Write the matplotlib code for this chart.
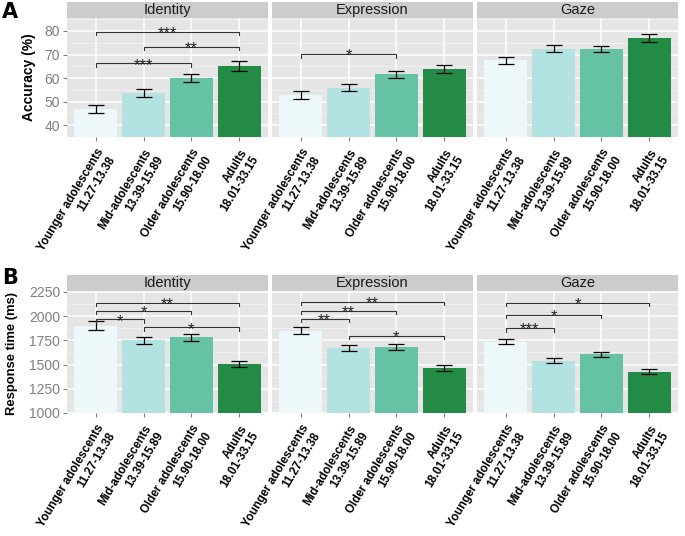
import matplotlib
matplotlib.use('Agg')
import matplotlib.pyplot as plt
from matplotlib.patches import Rectangle

plt.rcParams['font.family'] = ['Liberation Sans', 'DejaVu Sans']

groups = ['Younger adolescents\n11.27-13.38', 'Mid-adolescents\n13.39-15.89',
          'Older adolescents\n15.90-18.00', 'Adults\n18.01-33.15']
tasks = ['Identity', 'Expression', 'Gaze']
colors = ['#EDF8FB', '#B2E2E2', '#66C2A4', '#238B45']

# accuracy (%) per task, one value per age group
acc_mean = [[46.8, 53.5, 60.1, 65.1],
            [52.9, 56.0, 61.7, 63.9],
            [67.6, 72.5, 72.3, 77.0]]
acc_se = [[1.6, 1.7, 1.8, 2.1],
          [1.6, 1.6, 1.5, 1.8],
          [1.5, 1.35, 1.25, 1.5]]

# response time (ms)
rt_mean = [[1900, 1752, 1781, 1504],
           [1848, 1672, 1682, 1462],
           [1738, 1541, 1606, 1428]]
rt_se = [[46, 36, 35, 28],
         [36, 31, 30, 29],
         [29, 27, 27, 27]]

# significance brackets: (from group, to group, height, label)
acc_sig = [[(0, 3, 79.7, '***'), (1, 3, 73.3, '**'), (0, 2, 66.2, '***')],
           [(0, 2, 70.1, '*')],
           []]
rt_sig = [[(0, 3, 2141, '**'), (0, 2, 2055, '*'), (0, 1, 1966, '*'), (1, 3, 1884, '*')],
          [(0, 3, 2147, '**'), (0, 2, 2055, '**'), (0, 1, 1973, '**'), (1, 3, 1798, '*')],
          [(0, 3, 2141, '*'), (0, 2, 2013, '*'), (0, 1, 1874, '***')]]

W, H = 685, 536
fig = plt.figure(figsize=(W / 100, H / 100), dpi=100)

lefts = [67, 272, 477]
pw = 201


def panel(x0, ytop, ybot, title, means, ses, sigs, ylim, major, minor, tick_drop, show_y):
    ax = fig.add_axes([x0 / W, 1 - ybot / H, pw / W, (ybot - ytop) / H])
    ax.set_facecolor('#E5E5E5')
    for s in ax.spines.values():
        s.set_visible(False)
    ax.set_xlim(-0.6, 3.6)
    ax.set_ylim(*ylim)
    for m in minor:
        ax.axhline(m, color='#F2F2F2', lw=0.6, zorder=0)
    for m in major:
        ax.axhline(m, color='white', lw=1.1, zorder=0)
    for i in range(4):
        ax.axvline(i, color='white', lw=1.1, zorder=0)
    ax.bar(range(4), means, width=0.9, color=colors, zorder=1)
    ax.errorbar(range(4), means, yerr=ses, fmt='none', ecolor='black',
                elinewidth=0.9, capsize=5.5, capthick=0.9, zorder=2)
    for a, b, y, lab in sigs:
        ax.plot([a, a, b, b], [y - tick_drop, y, y, y - tick_drop],
                color='#333333', lw=0.8, zorder=3)
        ax.annotate(lab, ((a + b) / 2, y), xytext=(0, -4.5),
                    textcoords='offset points', ha='center', va='baseline',
                    fontsize=12, color='#222222', zorder=3)
    ax.set_yticks(major)
    ax.set_xticks(range(4))
    ax.set_xticklabels(groups, rotation=59, ha='right', va='top',
                       rotation_mode='anchor', fontsize=8.4, fontweight='bold',
                       multialignment='right')
    ax.tick_params(axis='x', length=3, color='#7F7F7F', pad=4)
    ax.tick_params(axis='y', length=3, color='#7F7F7F', labelcolor='#7F7F7F',
                   labelsize=10, pad=2)
    if not show_y:
        ax.tick_params(axis='y', length=0, labelleft=False)
    sh = 16 / (ybot - ytop)
    ax.add_patch(Rectangle((0, 1), 1, sh, transform=ax.transAxes,
                           facecolor='#CCCCCC', edgecolor='none', clip_on=False))
    ax.text(0.5, 1 + sh / 2, title, transform=ax.transAxes, ha='center',
            va='center', fontsize=10.5, color='#1A1A1A')
    return ax


for k in range(3):
    ax = panel(lefts[k], 18, 137, tasks[k], acc_mean[k], acc_se[k], acc_sig[k],
               (35, 85.5), [40, 50, 60, 70, 80], [35, 45, 55, 65, 75, 85],
               1.5, k == 0)
    if k == 0:
        ax.set_ylabel('Accuracy (%)', fontsize=10, fontweight='bold')
        ax.yaxis.set_label_coords(-0.155, 0.5)

for k in range(3):
    ax = panel(lefts[k], 291, 413, tasks[k], rt_mean[k], rt_se[k], rt_sig[k],
               (1000, 2260), [1000, 1250, 1500, 1750, 2000, 2250],
               [1125, 1375, 1625, 1875, 2125],
               35, k == 0)
    if k == 0:
        ax.set_ylabel('Response time (ms)', fontsize=9.4, fontweight='bold')
        ax.yaxis.set_label_coords(-0.245, 0.49)

fig.text(2 / W, 1 - 2 / H, 'A', fontsize=15, fontweight='bold', va='top',
         family='DejaVu Sans')
fig.text(2 / W, 1 - 268 / H, 'B', fontsize=15, fontweight='bold', va='top',
         family='DejaVu Sans')

fig.savefig('out.png', dpi=100)
